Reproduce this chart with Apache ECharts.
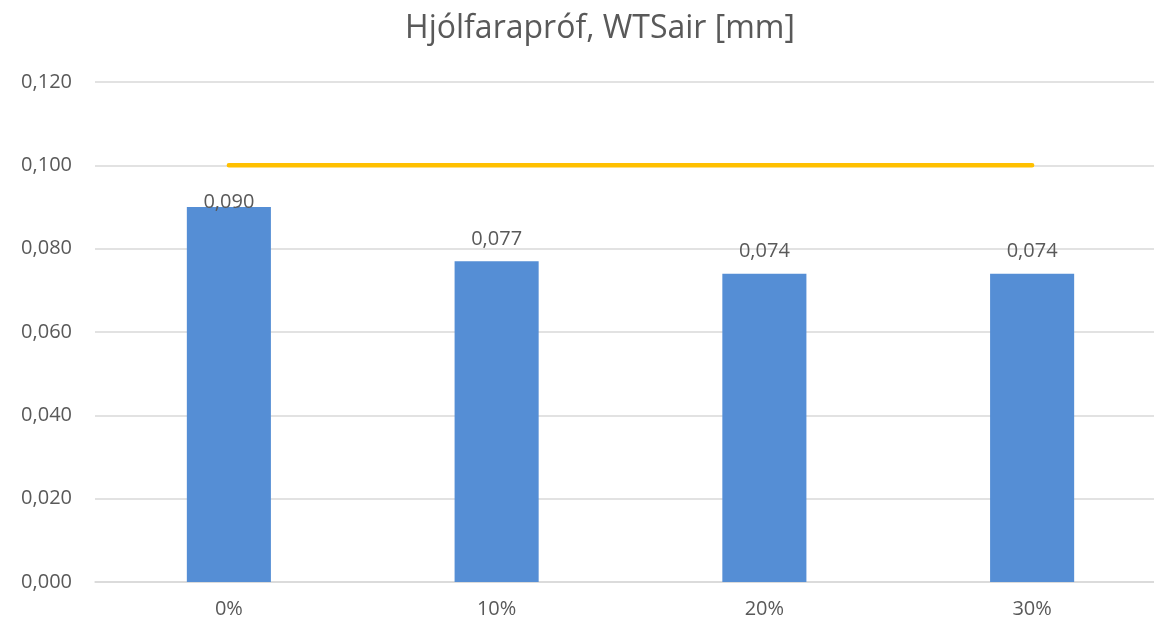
<!DOCTYPE html>
<html>
<head>
<meta charset="utf-8">
<script src="https://cdn.jsdelivr.net/npm/echarts@6/dist/echarts.min.js"></script>
<style>
  html, body { margin: 0; padding: 0; background: #fff; overflow: hidden; }
  #main { width: 1170px; height: 623px; }
</style>
</head>
<body>
<div id="main"></div>
<script>
const categories = ['0%', '10%', '20%', '30%'];
const wtsValues = [0.090, 0.077, 0.074, 0.074];
const limitValues = [0.100, 0.100, 0.100, 0.100];

const fmt = (v) => v.toFixed(3).replace('.', ',');
const textColor = '#595959';
const font = '"Open Sans", "Noto Sans", sans-serif';

const myChart = echarts.init(document.getElementById('main'));

// first label sits lower in the original, pushed down by the limit line
const barData = wtsValues.map((v, i) => i === 0
  ? { value: v, label: { offset: [0, 17] } }
  : v);

const option = {
  animation: false,
  title: {
    text: 'Hjólfarapróf, WTSair [mm]',
    left: 595,
    textAlign: 'center',
    top: 8,
    textStyle: {
      color: textColor,
      fontFamily: font,
      fontWeight: 'normal',
      fontSize: 32
    }
  },
  // plot area runs a little past the right edge of the window, as in the original
  grid: {
    left: 95,
    right: 4,
    top: 82,
    bottom: 41,
    containLabel: false
  },
  xAxis: {
    type: 'category',
    data: categories,
    axisTick: { show: false },
    axisLine: { lineStyle: { color: '#d9d9d9', width: 1.5 } },
    axisLabel: {
      color: textColor,
      fontFamily: font,
      fontSize: 20,
      margin: 17
    }
  },
  yAxis: {
    type: 'value',
    min: 0,
    max: 0.12,
    interval: 0.02,
    axisLine: { show: false },
    axisTick: { show: false },
    splitLine: { lineStyle: { color: '#d9d9d9', width: 1.5 } },
    axisLabel: {
      color: textColor,
      fontFamily: font,
      fontSize: 20,
      margin: 23,
      formatter: fmt
    }
  },
  series: [
    {
      name: 'WTSair',
      type: 'bar',
      data: barData,
      barWidth: '31.4%',
      itemStyle: { color: '#558ed5' },
      label: {
        show: true,
        position: 'top',
        distance: 12,
        color: textColor,
        fontFamily: font,
        fontSize: 20,
        formatter: (p) => fmt(p.value)
      }
    },
    {
      name: 'Limit',
      type: 'line',
      data: limitValues,
      symbol: 'none',
      lineStyle: { color: '#ffc000', width: 4.5, cap: 'round' },
      z: 3
    }
  ]
};

myChart.setOption(option);
</script>
</body>
</html>
